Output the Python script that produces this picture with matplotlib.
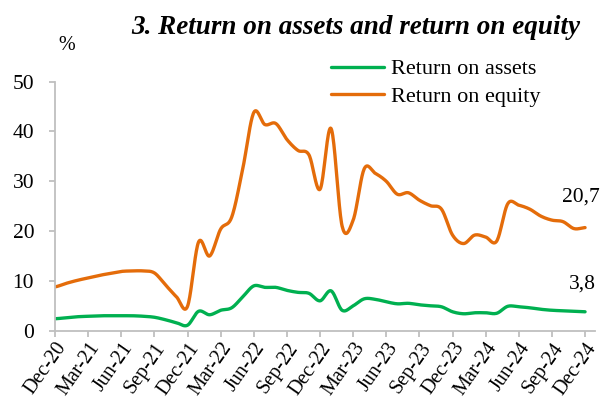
import numpy as np
import matplotlib
matplotlib.use("Agg")
import matplotlib.pyplot as plt

# ---- data ----
months = ["Dec-20", "Jan-21", "Feb-21", "Mar-21", "Apr-21", "May-21", "Jun-21", "Jul-21",
          "Aug-21", "Sep-21", "Oct-21", "Nov-21", "Dec-21", "Jan-22", "Feb-22", "Mar-22",
          "Apr-22", "May-22", "Jun-22", "Jul-22", "Aug-22", "Sep-22", "Oct-22", "Nov-22",
          "Dec-22", "Jan-23", "Feb-23", "Mar-23", "Apr-23", "May-23", "Jun-23", "Jul-23",
          "Aug-23", "Sep-23", "Oct-23", "Nov-23", "Dec-23", "Jan-24", "Feb-24", "Mar-24",
          "Apr-24", "May-24", "Jun-24", "Jul-24", "Aug-24", "Sep-24", "Oct-24", "Nov-24",
          "Dec-24"]
roa = [2.4, 2.6, 2.8, 2.9, 3.0, 3.0, 3.0, 3.0, 2.9, 2.7, 2.2, 1.6, 1.1,
       3.9, 3.2, 4.1, 4.6, 6.8, 9.0, 8.7, 8.7, 8.1, 7.7, 7.5, 6.0,
       8.0, 4.1, 5.0, 6.4, 6.3, 5.8, 5.4, 5.5, 5.2, 5.0, 4.8, 3.8,
       3.4, 3.6, 3.6, 3.5, 4.9, 4.8, 4.6, 4.3, 4.1, 4.0, 3.9, 3.8]
roe = [8.8, 9.5, 10.1, 10.6, 11.1, 11.5, 11.9, 12.0, 12.0, 11.6, 9.2, 6.8, 4.9,
       17.8, 15.0, 20.4, 22.8, 32.5, 43.8, 41.4, 41.6, 38.4, 36.2, 35.3, 28.4,
       40.6, 21.0, 22.2, 32.5, 31.6, 30.0, 27.4, 27.7, 26.2, 25.1, 24.4, 19.2,
       17.5, 19.2, 18.8, 18.0, 25.5, 25.2, 24.4, 23.0, 22.2, 21.9, 20.5, 20.7]
tick_labels = ["Dec-20", "Mar-21", "Jun-21", "Sep-21", "Dec-21", "Mar-22", "Jun-22",
               "Sep-22", "Dec-22", "Mar-23", "Jun-23", "Sep-23", "Dec-23", "Mar-24",
               "Jun-24", "Sep-24", "Dec-24"]
series_names = ["Return on assets", "Return on equity"]
last_labels = ["3,8", "20,7"]
title = "3. Return on assets and return on equity"


def smooth(y, n=20):
    """Catmull-Rom style smoothing (like Excel smoothed lines) through data points."""
    y = np.asarray(y, float)
    x = np.arange(len(y), dtype=float)
    xs, ys = [], []
    for i in range(len(y) - 1):
        p0 = y[i - 1] if i > 0 else y[i]
        p1, p2 = y[i], y[i + 1]
        p3 = y[i + 2] if i + 2 < len(y) else y[i + 1]
        c1 = p1 + (p2 - p0) / 6.0
        c2 = p2 - (p3 - p1) / 6.0
        t = np.linspace(0, 1, n, endpoint=False)
        b = ((1 - t) ** 3) * p1 + 3 * ((1 - t) ** 2) * t * c1 + 3 * (1 - t) * t ** 2 * c2 + t ** 3 * p2
        xs.append(x[i] + t)
        ys.append(b)
    xs.append([x[-1]])
    ys.append([y[-1]])
    return np.concatenate(xs), np.concatenate(ys)


plt.rcParams['font.family'] = ['Liberation Serif', 'DejaVu Serif']

fig = plt.figure(figsize=(6.14, 4.08), dpi=100)
ax = fig.add_axes([55 / 614, 1 - 330.7 / 408, (595 - 55) / 614, (330.7 - 81.7) / 408])

green = "#00B050"
orange = "#E46C0A"
gx, gy = smooth(roa)
ox, oy = smooth(roe)
l1, = ax.plot(gx, gy, color=green, lw=2.4, solid_capstyle='round')
l2, = ax.plot(ox, oy, color=orange, lw=2.4, solid_capstyle='round')

ax.set_ylim(0, 50)
ax.set_xlim(0, 48.9)
ax.set_yticks(range(0, 51, 10))
ax.set_yticklabels([str(v) for v in range(0, 51, 10)], fontsize=15.5)
ax.set_xticks(range(0, 49, 3))
ax.set_xticklabels(tick_labels, rotation=55, ha='right', rotation_mode='anchor', fontsize=14.5)

for s in ['top', 'right']:
    ax.spines[s].set_visible(False)
for s in ['left', 'bottom']:
    ax.spines[s].set_color('#BFBFBF')
    ax.spines[s].set_linewidth(1.3)
ax.tick_params(axis='both', direction='out', length=4, width=1.3, color='#BFBFBF')
ax.tick_params(axis='y', pad=11)
ax.tick_params(axis='x', pad=2)

# end labels
ax.annotate(last_labels[1], (48, roe[-1]), xytext=(-3, 22), textcoords='offset points',
            ha='center', va='center', fontsize=15.5)
ax.annotate(last_labels[0], (48, roa[-1]), xytext=(-2, 20), textcoords='offset points',
            ha='center', va='center', fontsize=15.5)

# legend
fig.legend([l1, l2], series_names, loc='upper left', bbox_to_anchor=(322 / 614, 1 - 50 / 408),
           frameon=False, fontsize=16, handlelength=2.4, handletextpad=0.3, labelspacing=0.3,
           borderaxespad=0)

fig.text(58 / 614, 1 - 45 / 408, "%", fontsize=14.5, ha='left', va='center')
fig.text(580 / 614, 1 - 27 / 408, title, fontsize=19.5, fontweight='bold', fontstyle='italic',
         ha='right', va='center')

fig.savefig("out.png", dpi=100)
